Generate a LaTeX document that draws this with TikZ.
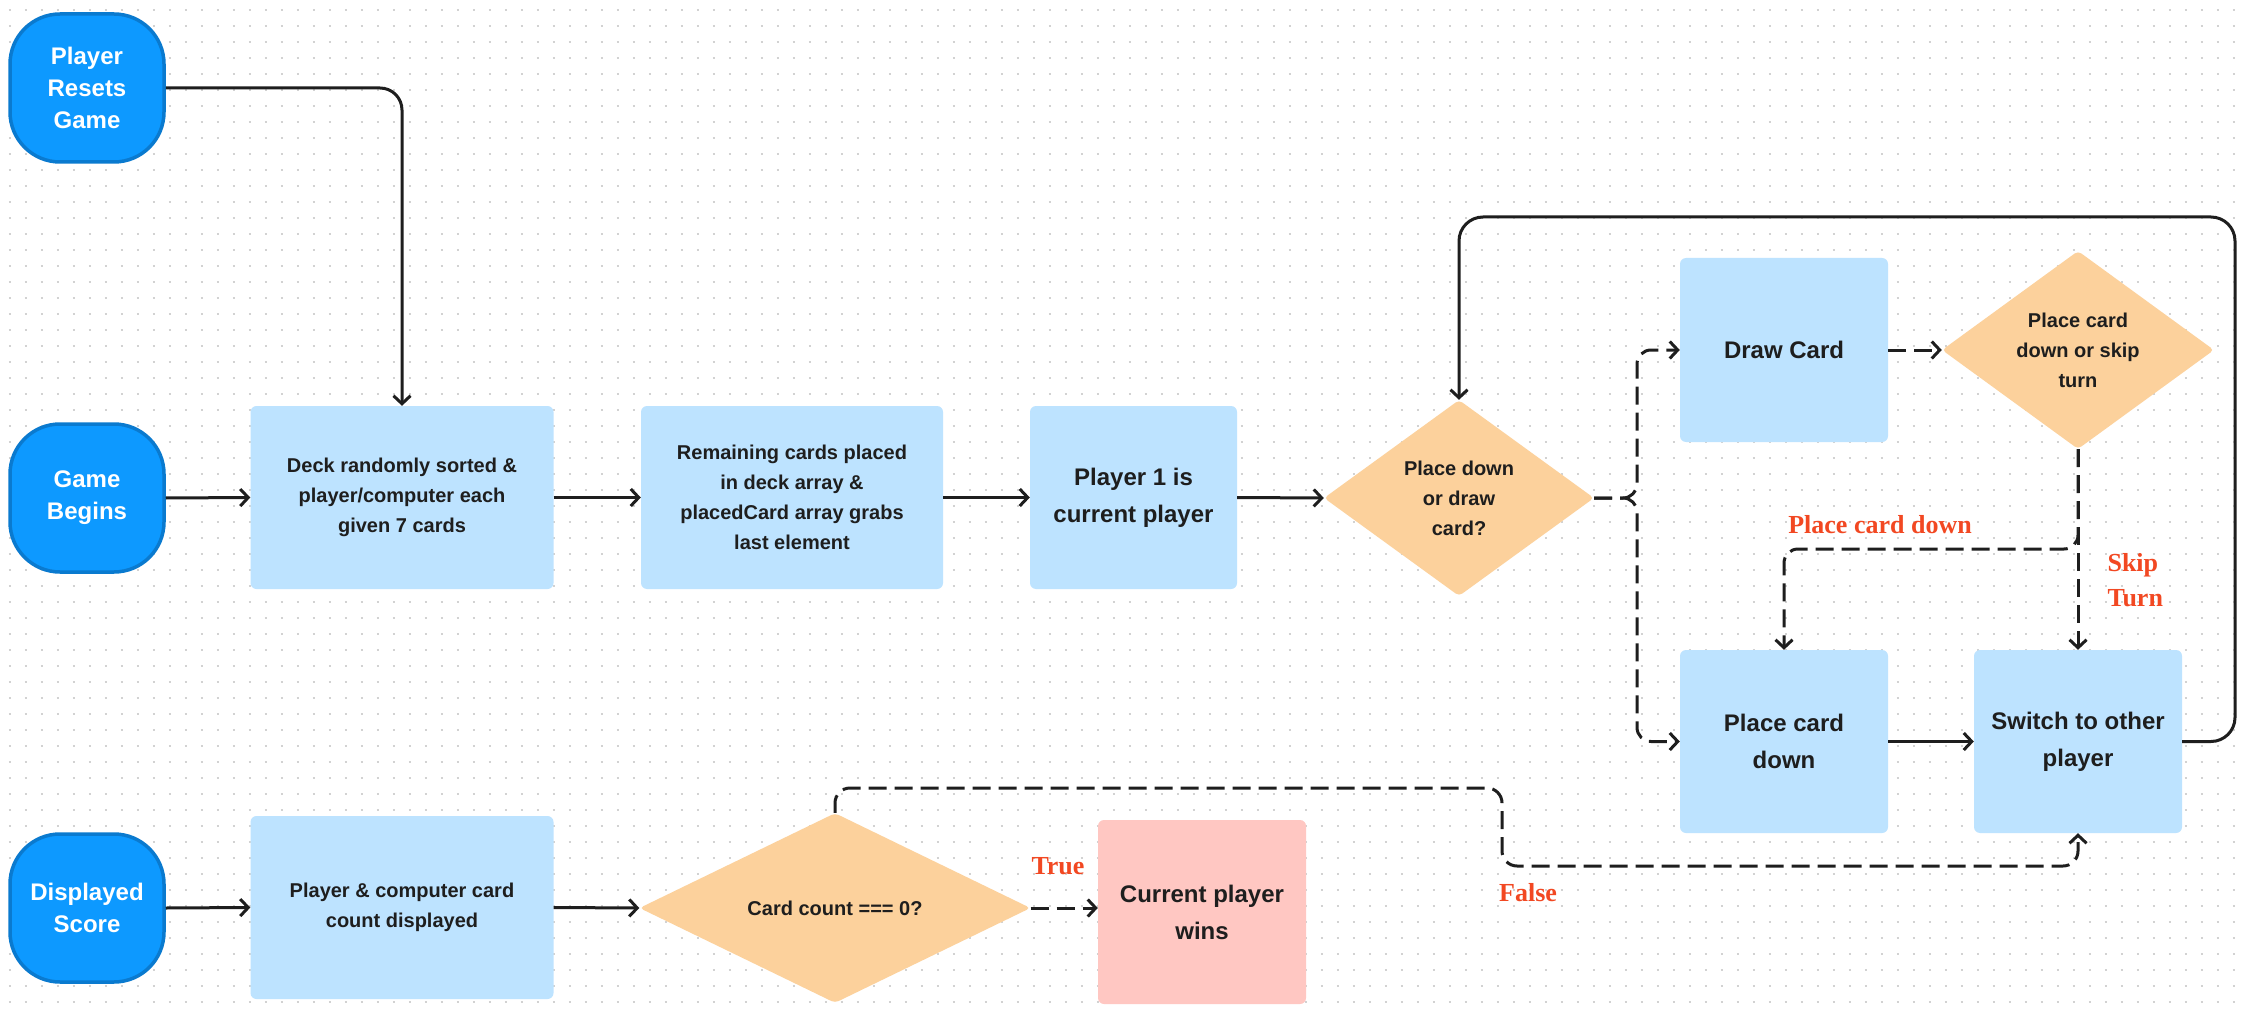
\documentclass[tikz,border=0pt]{standalone}
\usepackage{fontspec}
\setmainfont{Liberation Sans}
\newfontfamily\labelfont{Liberation Serif}
\usetikzlibrary{arrows.meta,shapes.geometric}

\definecolor{ink}{HTML}{1E1E1E}
\definecolor{termfill}{HTML}{0D99FF}
\definecolor{termedge}{HTML}{0A7ACF}
\definecolor{procfill}{HTML}{BDE3FF}
\definecolor{decfill}{HTML}{FCD19C}
\definecolor{winfill}{HTML}{FFC7C2}
\definecolor{condred}{HTML}{F24822}
\definecolor{gridgray}{HTML}{D2D2D2}

\begin{document}
\begin{tikzpicture}[x=1pt,y=-1pt,
  terminal/.style={draw=termedge, fill=termfill, line width=3.5pt, rounded corners=50pt,
    minimum width=154pt, minimum height=148pt, inner sep=0pt, text=white, align=center,
    font=\bfseries\fontsize{24}{32}\selectfont},
  process/.style={fill=procfill, rounded corners=6pt, inner sep=0pt, text=ink, align=center},
  smalltext/.style={font=\bfseries\fontsize{20}{30}\selectfont},
  bigtext/.style={font=\bfseries\fontsize{24}{37}\selectfont},
  decision/.style={diamond, fill=decfill, inner sep=0pt, text=ink, align=center, rounded corners=4pt},
  flow/.style={draw=ink, line width=3pt, -{Straight Barb[length=8pt,width=17pt]}},
  altflow/.style={flow, dash pattern=on 18pt off 8pt},
  cond/.style={text=condred, font=\labelfont\bfseries\fontsize{26}{35}\selectfont}
]
\useasboundingbox (0,0) rectangle (2248,1016);
\fill[white] (0,0) rectangle (2248,1016);

% dotted canvas
\foreach \j in {0,...,62}
  \draw[gridgray, line width=2.2pt, dash pattern=on 2.2pt off 13.8pt]
    (8.9,{10+16*\j}) -- (2248,{10+16*\j});

% start / event nodes
\node[terminal] (reset) at (87,88) {Player\\Resets\\Game};
\node[terminal] (begin) at (87,498) {Game\\Begins};
\node[terminal] (score) at (87,908) {Displayed\\Score};

% main flow
\node[process, smalltext, minimum width=303pt, minimum height=183pt] (deck) at (402,497.5)
  {Deck randomly sorted \&\\player/computer each\\given 7 cards};
\node[process, smalltext, minimum width=302pt, minimum height=183pt] (remain) at (792,497.5)
  {Remaining cards placed\\in deck array \&\\placedCard array grabs\\last element};
\node[process, bigtext, minimum width=207pt, minimum height=183pt] (first) at (1133.5,497.5)
  {Player 1 is\\current player};
\node[decision, smalltext, minimum width=270pt, minimum height=196pt] (choice) at (1459,498)
  {Place down\\or draw\\card?};
\node[process, bigtext, minimum width=208pt, minimum height=184pt] (drawcard) at (1784,350)
  {Draw Card};
\node[decision, smalltext, minimum width=272pt, minimum height=196pt] (skipq) at (2078,350)
  {Place card\\down or skip\\turn};
\node[process, bigtext, minimum width=208pt, minimum height=183pt] (place) at (1784,741.5)
  {Place card\\down};
\node[process, bigtext, minimum width=208pt, minimum height=183pt] (switch) at (2078,741.5)
  {Switch to other\\player};

% score flow
\node[process, smalltext, minimum width=303pt, minimum height=183pt] (count) at (402,907.5)
  {Player \& computer card\\count displayed};
\node[decision, smalltext, minimum width=391pt, minimum height=177pt] (zero) at (835,908)
  {Card count === 0?};
\node[process, bigtext, fill=winfill, minimum width=208pt, minimum height=184pt] (wins) at (1202,912)
  {Current player\\wins};

% routing points
\coordinate (fork) at (1637,498);
\coordinate (skipturn) at (2078,549);
\coordinate (loopTR) at (2235,217);
\coordinate (loopTL) at (1459,217);
\coordinate (zeroUp) at (835,788);
\coordinate (zeroMid) at (1502,788);
\coordinate (zeroLow) at (1502,866);

% solid connectors
\draw[flow, rounded corners=22pt] (reset.east) -| (deck.north);
\draw[flow] (begin.east) -- (deck.west);
\draw[flow] (deck.east) -- (remain.west);
\draw[flow] (remain.east) -- (first.west);
\draw[flow] (first.east) -- (choice.west);
\draw[flow] (place.east) -- (switch.west);
\draw[flow, rounded corners=24pt] (switch.east) -| (loopTR) -- (loopTL) -- (choice.north);
\draw[flow] (score.east) -- (count.west);
\draw[flow] (count.east) -- (zero.west);

% dashed connectors
\draw[altflow, rounded corners=14pt] (choice.east) -- (fork) |- (drawcard.west);
\draw[altflow, rounded corners=14pt] (choice.east) -- (fork) |- (place.west);
\draw[altflow] (drawcard.east) -- (skipq.west);
\draw[altflow] (skipq.south) -- (switch.north);
\draw[altflow, rounded corners=14pt] (skipq.south) -- (skipturn) -| (place.north);
\draw[altflow] (zero.east) -- (zero.east -| wins.west);
\draw[altflow, rounded corners=15pt] (zero.north) -- (zeroUp) -- (zeroMid) -- (zeroLow) -| (switch.south);

% branch labels
\node[cond] (lblplace) at (1880,525) {Place card down};
\node[cond, anchor=west, align=left] (lblskip) at (2104,580) {Skip\\Turn};
\node[cond] (lbltrue) at (1058,866) {True};
\node[cond] (lblfalse) at (1528,893) {False};
\end{tikzpicture}
\end{document}
